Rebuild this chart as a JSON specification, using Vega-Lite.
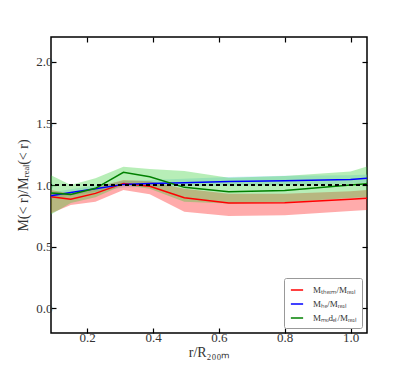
{
  "$schema": "https://vega.github.io/schema/vega-lite/v6.json",
  "width": 316,
  "height": 296,
  "autosize": {"type": "none"},
  "padding": {"left": 51, "top": 37, "right": 40, "bottom": 37},
  "background": "white",
  "config": {
    "view": {"stroke": "black", "strokeWidth": 1.5},
    "font": "Liberation Serif",
    "axis": {
      "grid": false,
      "domain": false,
      "tickColor": "black",
      "tickWidth": 1.2,
      "tickSize": -5,
      "labelFont": "Liberation Serif",
      "labelFontSize": 13,
      "labelColor": "#333",
      "titleFont": "Liberation Serif",
      "titleFontSize": 14,
      "titleFontWeight": "normal",
      "titleColor": "#333"
    }
  },
  "data": {
    "values": [
      {"x": 0.09, "series": "therm", "y": 0.905, "lo": 0.77, "hi": 0.96},
      {"x": 0.15, "series": "therm", "y": 0.885, "lo": 0.838, "hi": 0.93},
      {"x": 0.225, "series": "therm", "y": 0.932, "lo": 0.865, "hi": 0.98},
      {"x": 0.31, "series": "therm", "y": 1.013, "lo": 0.959, "hi": 1.04},
      {"x": 0.39, "series": "therm", "y": 0.99, "lo": 0.925, "hi": 1.03},
      {"x": 0.495, "series": "therm", "y": 0.897, "lo": 0.784, "hi": 0.97},
      {"x": 0.63, "series": "therm", "y": 0.855, "lo": 0.749, "hi": 0.93},
      {"x": 0.8, "series": "therm", "y": 0.857, "lo": 0.755, "hi": 0.93},
      {"x": 1.0, "series": "therm", "y": 0.885, "lo": 0.79, "hi": 0.95},
      {"x": 1.05, "series": "therm", "y": 0.892, "lo": 0.797, "hi": 0.96},
      {"x": 0.09, "series": "HE", "y": 0.913, "lo": 0.89, "hi": 0.94},
      {"x": 0.15, "series": "HE", "y": 0.94, "lo": 0.915, "hi": 0.965},
      {"x": 0.225, "series": "HE", "y": 0.97, "lo": 0.945, "hi": 0.995},
      {"x": 0.31, "series": "HE", "y": 1.005, "lo": 0.98, "hi": 1.03},
      {"x": 0.39, "series": "HE", "y": 1.013, "lo": 0.985, "hi": 1.04},
      {"x": 0.495, "series": "HE", "y": 1.018, "lo": 0.99, "hi": 1.05},
      {"x": 0.63, "series": "HE", "y": 1.028, "lo": 0.995, "hi": 1.065},
      {"x": 0.8, "series": "HE", "y": 1.035, "lo": 1.0, "hi": 1.075},
      {"x": 1.0, "series": "HE", "y": 1.045, "lo": 1.01, "hi": 1.08},
      {"x": 1.05, "series": "HE", "y": 1.054, "lo": 1.02, "hi": 1.085},
      {"x": 0.09, "series": "model", "y": 0.935, "lo": 0.76, "hi": 1.08},
      {"x": 0.15, "series": "model", "y": 0.924, "lo": 0.855, "hi": 1.0},
      {"x": 0.225, "series": "model", "y": 0.973, "lo": 0.9, "hi": 1.054},
      {"x": 0.31, "series": "model", "y": 1.103, "lo": 1.0, "hi": 1.148},
      {"x": 0.39, "series": "model", "y": 1.067, "lo": 0.97, "hi": 1.13},
      {"x": 0.495, "series": "model", "y": 0.981, "lo": 0.865, "hi": 1.113},
      {"x": 0.63, "series": "model", "y": 0.946, "lo": 0.85, "hi": 1.059},
      {"x": 0.8, "series": "model", "y": 0.955, "lo": 0.86, "hi": 1.073},
      {"x": 1.0, "series": "model", "y": 1.0, "lo": 0.895, "hi": 1.11},
      {"x": 1.05, "series": "model", "y": 1.01, "lo": 0.9, "hi": 1.15}
    ]
  },
  "resolve": {"axis": {"x": "independent", "y": "independent"}},
  "layer": [
    {
      "transform": [{"filter": "datum.series === 'HE'"}],
      "mark": {"type": "area", "color": "#87cefa", "opacity": 0.4},
      "encoding": {
        "x": {"field": "x", "type": "quantitative", "scale": {"domain": [0.09, 1.05], "nice": false, "zero": false},
              "axis": {"orient": "top", "values": [0.2, 0.4, 0.6, 0.8, 1.0], "labels": false, "title": null}},
        "y": {"field": "lo", "type": "quantitative", "scale": {"domain": [-0.2, 2.2], "nice": false, "zero": false},
              "axis": {"orient": "right", "values": [0, 0.5, 1, 1.5, 2], "labels": false, "title": null}},
        "y2": {"field": "hi"}
      }
    },
    {
      "transform": [{"filter": "datum.series === 'therm'"}],
      "mark": {"type": "area", "color": "#ff0000", "opacity": 0.33},
      "encoding": {
        "x": {"field": "x", "type": "quantitative", "axis": null},
        "y": {"field": "lo", "type": "quantitative", "axis": null},
        "y2": {"field": "hi"}
      }
    },
    {
      "transform": [{"filter": "datum.series === 'model'"}],
      "mark": {"type": "area", "color": "#32cd32", "opacity": 0.35},
      "encoding": {
        "x": {"field": "x", "type": "quantitative", "axis": null},
        "y": {"field": "lo", "type": "quantitative", "axis": null},
        "y2": {"field": "hi"}
      }
    },
    {
      "mark": {"type": "line", "strokeWidth": 1.5},
      "encoding": {
        "x": {"field": "x", "type": "quantitative",
              "axis": {"orient": "bottom", "values": [0.2, 0.4, 0.6, 0.8, 1.0], "format": ".1f", "title": "r/R₂₀₀ₘ", "labelPadding": 3, "titlePadding": 1}},
        "y": {"field": "y", "type": "quantitative",
              "axis": {"orient": "left", "values": [0, 0.5, 1, 1.5, 2], "format": ".1f", "title": "M(< r)/Mᵣₑₐₗ(< r)", "labelPadding": 4, "titlePadding": 5}},
        "color": {
          "field": "series", "type": "nominal",
          "scale": {"domain": ["therm", "HE", "model"], "range": ["#ff0000", "#0000ff", "#008000"]},
          "legend": {
            "title": null,
            "orient": "bottom-right",
            "offset": 5,
            "symbolType": "stroke",
            "symbolStrokeWidth": 1.5,
            "symbolSize": 150,
            "symbolOffset": 1,
            "labelFont": "Liberation Serif",
            "labelFontSize": 9,
            "labelColor": "#333",
            "labelOffset": 9,
            "rowPadding": 2,
            "padding": 5,
            "fillColor": "white",
            "strokeColor": "#999",
            "cornerRadius": 2,
            "labelExpr": "datum.label === 'therm' ? 'Mₜₕₑᵣₘ/Mᵣₑₐₗ' : datum.label === 'HE' ? 'Mₕₑ/Mᵣₑₐₗ' : 'Mₘₒdₑₗ/Mᵣₑₐₗ'"
          }
        }
      }
    },
    {
      "mark": {"type": "rule", "strokeDash": [4, 3], "strokeWidth": 1.5, "color": "black"},
      "encoding": {"y": {"datum": 1, "type": "quantitative", "axis": null}}
    }
  ]
}
